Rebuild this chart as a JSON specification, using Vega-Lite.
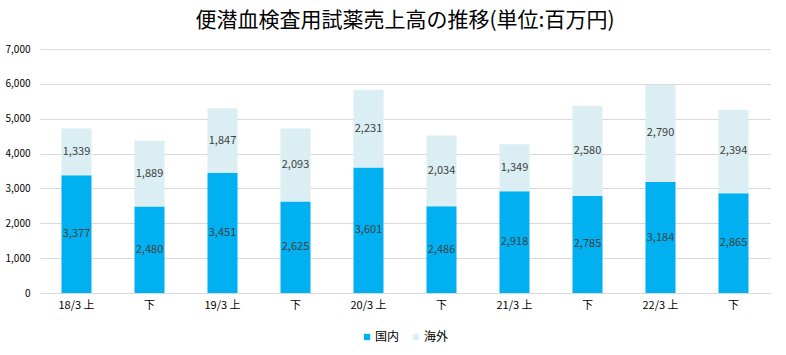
{
  "$schema": "https://vega.github.io/schema/vega-lite/v6.json",
  "width": 730,
  "height": 244,
  "autosize": "none",
  "padding": {"left": 40, "top": 49, "right": 16, "bottom": 62},
  "background": "white",
  "title": {
    "text": "便潜血検査用試薬売上高の推移(単位:百万円)",
    "font": "Noto Sans CJK JP",
    "fontSize": 21,
    "fontWeight": "normal",
    "color": "#000000",
    "anchor": "middle",
    "offset": 13
  },
  "config": {
    "view": {"stroke": null},
    "font": "Noto Sans CJK JP",
    "legend": {"layout": {"bottom": {"anchor": "middle"}}}
  },
  "data": {
    "values": [
      {"period": "18/3 上", "region": "国内", "value": 3377},
      {"period": "18/3 上", "region": "海外", "value": 1339},
      {"period": "18/3 下", "region": "国内", "value": 2480},
      {"period": "18/3 下", "region": "海外", "value": 1889},
      {"period": "19/3 上", "region": "国内", "value": 3451},
      {"period": "19/3 上", "region": "海外", "value": 1847},
      {"period": "19/3 下", "region": "国内", "value": 2625},
      {"period": "19/3 下", "region": "海外", "value": 2093},
      {"period": "20/3 上", "region": "国内", "value": 3601},
      {"period": "20/3 上", "region": "海外", "value": 2231},
      {"period": "20/3 下", "region": "国内", "value": 2486},
      {"period": "20/3 下", "region": "海外", "value": 2034},
      {"period": "21/3 上", "region": "国内", "value": 2918},
      {"period": "21/3 上", "region": "海外", "value": 1349},
      {"period": "21/3 下", "region": "国内", "value": 2785},
      {"period": "21/3 下", "region": "海外", "value": 2580},
      {"period": "22/3 上", "region": "国内", "value": 3184},
      {"period": "22/3 上", "region": "海外", "value": 2790},
      {"period": "22/3 下", "region": "国内", "value": 2865},
      {"period": "22/3 下", "region": "海外", "value": 2394}
    ]
  },
  "transform": [
    {"stack": "value", "groupby": ["period"], "sort": [{"field": "region", "order": "ascending"}], "as": ["v0", "v1"]},
    {"calculate": "(datum.v0 + datum.v1) / 2", "as": "mid"}
  ],
  "encoding": {
    "x": {
      "field": "period",
      "type": "nominal",
      "sort": null,
      "axis": {
        "title": null,
        "labelAngle": 0,
        "labelExpr": "test(/下/, datum.value) ? '下' : datum.value",
        "labelFontSize": 11,
        "labelColor": "#000000",
        "labelPadding": 6,
        "ticks": false,
        "domainColor": "#D9D9D9",
        "domainWidth": 1
      }
    }
  },
  "layer": [
    {
      "mark": {"type": "bar", "size": 30},
      "encoding": {
        "y": {
          "field": "v0",
          "type": "quantitative",
          "scale": {"domain": [0, 7000], "nice": false},
          "axis": {
            "title": null,
            "values": [0, 1000, 2000, 3000, 4000, 5000, 6000, 7000],
            "format": ",.0f",
            "grid": true,
            "gridColor": "#D9D9D9",
            "domain": false,
            "ticks": false,
            "labelFontSize": 10,
            "labelColor": "#000000",
            "labelPadding": 10
          }
        },
        "y2": {"field": "v1"},
        "color": {
          "field": "region",
          "type": "nominal",
          "scale": {"domain": ["国内", "海外"], "range": ["#00B0F0", "#DAEEF3"]},
          "legend": {
            "title": null,
            "orient": "bottom",
            "direction": "horizontal",
            "symbolType": "square",
            "symbolSize": 40,
            "symbolStrokeWidth": 0,
            "labelFontSize": 12,
            "labelColor": "#000000",
            "offset": 21,
            "columnPadding": 10,
            "labelOffset": 2
          }
        }
      }
    },
    {
      "mark": {"type": "text", "fontSize": 11, "color": "#404040"},
      "encoding": {
        "y": {
          "field": "mid",
          "type": "quantitative",
          "scale": {"domain": [0, 7000], "nice": false},
          "axis": {
            "title": null,
            "values": [0, 1000, 2000, 3000, 4000, 5000, 6000, 7000],
            "format": ",.0f",
            "grid": true,
            "gridColor": "#D9D9D9",
            "domain": false,
            "ticks": false,
            "labelFontSize": 10,
            "labelColor": "#000000",
            "labelPadding": 10
          }
        },
        "text": {"field": "value", "type": "quantitative", "format": ","}
      }
    }
  ]
}
